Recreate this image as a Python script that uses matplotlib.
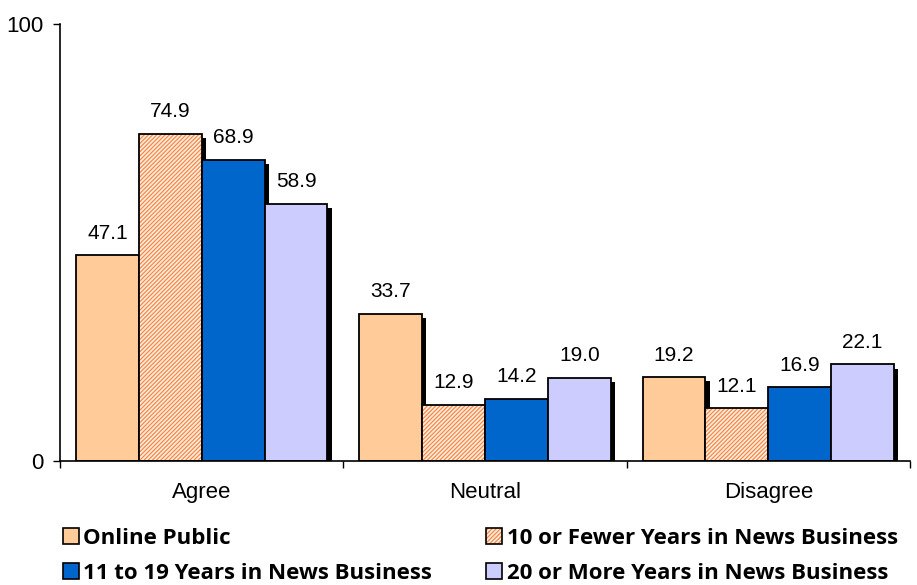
import numpy as np
import matplotlib
matplotlib.use("Agg")
import matplotlib.pyplot as plt
from matplotlib.patches import Patch
from matplotlib import patheffects

categories = ["Agree", "Neutral", "Disagree"]
series_names = ["Online Public",
                "10 or Fewer Years in News Business",
                "11 to 19 Years in News Business",
                "20 or More Years in News Business"]
online_public = [47.1, 33.7, 19.2]
fewer_10 = [74.9, 12.9, 12.1]
years_11_19 = [68.9, 14.2, 16.9]
more_20 = [58.9, 19.0, 22.1]

plt.rcParams['font.family'] = ['Liberation Sans', 'DejaVu Sans']
plt.rcParams['hatch.linewidth'] = 0.85

fig = plt.figure(figsize=(9.17, 5.85), dpi=100)
ax = fig.add_axes([60/917, 124/585, 850/917, 437/585])

x = np.arange(len(categories)) + 0.5
w = 0.222
values = [online_public, fewer_10, years_11_19, more_20]
faces = ['#FFCC99', '#FFEBDA', '#0066CC', '#CCCCFF']
hatch_col = '#F58545'
hatch = '////////'
offsets = [-1.5, -0.5, 0.5, 1.5]

shadow = [patheffects.SimplePatchShadow(offset=(3, -3), shadow_rgbFace='black', alpha=1.0)]

for i, vals in enumerate(values):
    pos = x + offsets[i] * w
    # black drop shadow
    ax.bar(pos, vals, w, color='none', edgecolor='none', zorder=1 + i * 0.1,
           path_effects=shadow)
    if i == 1:
        ax.bar(pos, vals, w, facecolor=faces[i], edgecolor=hatch_col,
               hatch=hatch, linewidth=0, zorder=2 + i * 0.1)
        ax.bar(pos, vals, w, fill=False, edgecolor='black', linewidth=1.3,
               zorder=2.05 + i * 0.1)
    else:
        ax.bar(pos, vals, w, color=faces[i], edgecolor='black', linewidth=1.3,
               zorder=2 + i * 0.1)
    for px, v in zip(pos, vals):
        ax.annotate(f"{v:.1f}", (px, v), xytext=(0, 9), textcoords='offset points',
                    ha='center', va='bottom', fontsize=15)

ax.set_xlim(0, len(categories))
ax.set_ylim(0, 100)
ax.set_yticks([0, 100])
ax.tick_params(axis='y', direction='out', length=5, width=1, pad=7, labelsize=16)
ax.set_xticks(x)
ax.set_xticklabels(categories)
ax.set_xticks(np.arange(len(categories) + 1), minor=True)
ax.tick_params(axis='x', which='major', length=0, pad=15, labelsize=16)
ax.tick_params(axis='x', which='minor', direction='out', length=5, width=1)
for s in ['top', 'right']:
    ax.spines[s].set_visible(False)
for s in ['left', 'bottom']:
    ax.spines[s].set_linewidth(1.2)

handles = [Patch(facecolor=faces[0], edgecolor='black', linewidth=1.2),
           (Patch(facecolor=faces[1], edgecolor=hatch_col, hatch=hatch, linewidth=0),
            Patch(fill=False, edgecolor='black', linewidth=1.2)),
           Patch(facecolor=faces[2], edgecolor='black', linewidth=1.2),
           Patch(facecolor=faces[3], edgecolor='black', linewidth=1.2)]
# legend fills column-first, so reorder to get row-wise layout
order = [0, 2, 1, 3]
fig.legend([handles[k] for k in order], [series_names[k] for k in order],
           loc='lower left', bbox_to_anchor=(63/917, 0.002),
           ncol=2, frameon=False, borderpad=0, borderaxespad=0,
           handlelength=0.7, handleheight=0.7, handletextpad=0.22,
           columnspacing=2.42, labelspacing=0.62,
           prop={'family': 'Open Sans', 'weight': 'bold', 'size': 16})

fig.savefig("out.png", dpi=100)
